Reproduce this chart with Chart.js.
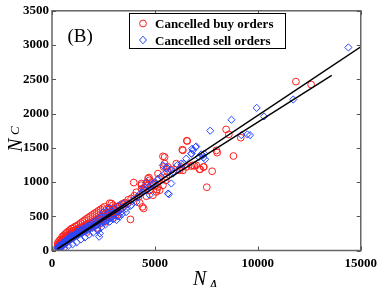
<!DOCTYPE html>
<html>
<head>
<meta charset="utf-8">
<script src="https://cdn.jsdelivr.net/npm/chart.js@4.4.1/dist/chart.umd.min.js"></script>
<style>
html,body{margin:0;padding:0;background:#fff;}
canvas{display:block;}
</style>
</head>
<body>
<canvas id="c" width="382" height="287"></canvas>
<script>
// ---- data ----
const xTicks = [0, 5000, 10000, 15000];
const yTicks = [0, 500, 1000, 1500, 2000, 2500, 3000, 3500];
const seriesLabels = ['Cancelled buy orders', 'Cancelled sell orders'];

const buyX = [260,300,320,350,380,400,420,450,470,500,520,540,560,580,600,620,650,680,700,720,750,780,800,820,850,880,900,930,960,1000,1030,1060,1100,1130,1160,1200,1240,1280,1320,1360,1400,1450,1500,1550,1600,1650,1700,1750,1800,1850,1900,1950,2000,2050,2100,2150,2200,2250,2300,2350,2400,2450,2500,2550,2600,2650,2700,2750,2800,2850,2900,2950,3000,3050,3100,3150,3200,3250,3300,3400,3487,3550,3650,3700,3811,3850,3971,4000,4100,4200,4262,4350,4455,4500,4586,4586,4650,4712,4746,4850,4950,5100,5200,5390,5390,5424,5473,5521,5555,5600,5800,6039,6199,6281,6330,6360,6360,6523,6550,6570,6765,6840,6925,7005,7168,7200,7360,7376,7520,7780,7990,8025,8460,8590,8815,9170,11850,12590,
  280,340,410,490,570,640,710,790,870,950,1040,1120,1210,1300,1390,1480,1570,1660,1760,1860,1960,2060,2160,2260,2360,2460,2560,2660,2760,2890,2960,4344,4665,5230,5070,4393,5473,5632,5148,4344,4746,4503,5148,4906,
  450,600,750,900,1050,1200,1350,1500,1650,1800,1950,2100,2250,2400,2550,2700,2850,3000,3200,3400,2200,2600,3100,1700,2950];
const buyY = [55,80,45,100,70,120,90,60,140,110,160,85,130,180,100,150,200,120,170,210,140,190,230,160,210,250,180,230,270,200,250,290,220,270,300,240,290,320,260,310,340,280,330,360,300,350,380,320,370,400,340,390,420,360,410,440,380,430,470,400,450,500,430,480,530,460,510,560,690,500,550,600,530,580,640,560,517,610,660,620,677,700,680,740,454,760,992,800,850,780,695,900,614,880,793,978,950,1065,880,1000,960,890,1050,953,1375,1220,1365,1026,1074,1150,1180,1269,1171,1220,1472,1171,1462,1220,1603,1598,1234,1244,1234,1244,1186,1186,1220,1220,924,1157,1462,1429,1768,1695,1380,1647,2466,2423,
  110,140,160,200,220,240,260,280,300,320,330,350,360,380,400,420,440,460,480,500,520,540,560,580,600,620,640,600,620,687,660,953,1050,880,856,637,1269,1220,1123,978,1026,928,928,808,
  100,130,160,200,230,260,290,310,330,360,380,420,440,470,500,530,560,600,640,680,330,420,520,270,470];

const sellX = [240,270,300,330,360,390,420,450,480,510,540,570,600,630,660,700,730,760,800,840,870,900,940,980,1020,1060,1100,1140,1180,1220,1260,1300,1350,1400,1450,1500,1550,1600,1650,1700,1750,1800,1850,1900,1950,2000,2050,2100,2150,2200,2242,2291,2325,2350,2400,2450,2500,2550,2600,2650,2700,2750,2800,2850,2900,2950,3000,3050,3133,3200,3293,3350,3400,3500,3600,3700,3800,3860,3950,4102,4150,4250,4400,4550,4700,4850,5000,5150,5300,5473,5555,5632,5681,5797,5900,6100,6200,6393,6523,6780,6814,6843,6974,7006,7134,7327,7395,7685,8717,9200,9490,9620,9943,10300,11720,14400,
  400,600,800,1000,1200,1400,1600,1800,2000,2200,2400,2600,2800,3000,3200,3400,3600,6765,7250,7361,7443,5390,5555,5797,5875,6281,4586,4906,4422,4746,
  350,500,650,800,950,1100,1250,1400,1550,1700,1850,2000,2150,2300,2450,2600,2750,2900,3050,3250,3450,2500,2800,1300,900];
const sellY = [20,45,30,60,40,75,55,90,65,105,80,120,95,135,110,150,125,165,140,180,150,195,170,210,185,225,200,240,215,255,230,270,245,285,260,300,275,315,290,330,300,345,320,360,330,375,350,390,365,405,298,201,250,420,395,440,410,455,430,475,450,490,465,510,485,530,505,550,444,575,492,600,570,640,610,680,650,662,740,710,780,820,850,880,930,960,1000,1040,1080,1123,1220,832,822,978,1150,1250,1196,1269,1341,1414,1487,1462,1510,1520,1365,1390,1414,1749,1909,1685,1695,1685,2083,1957,2204,2965,
  15,40,70,90,120,160,190,230,260,300,340,380,420,460,500,530,560,1414,1404,1356,1331,1244,1196,1171,1123,1269,1001,978,905,808,
  70,100,140,170,200,230,260,300,330,350,380,410,440,470,500,520,550,580,610,650,690,560,620,300,220];

const fitSellX = [250, 15000];
const fitSellY = [20, 2975];
const fitBuyX = [250, 13590];
const fitBuyY = [20, 2557];

const toPts = (xs, ys) => xs.map((x, i) => ({x: x, y: ys[i]}));

const RED = 'rgb(255,30,30)';
const BLUE = 'rgb(40,70,255)';
const SERIF = '"Liberation Serif", "Times New Roman", serif';

const framePlugin = {
  id: 'frame',
  afterDraw(chart) {
    const ctx = chart.ctx;
    const a = chart.chartArea;
    const xs = chart.scales.x, ys = chart.scales.y;
    ctx.save();
    // frame
    ctx.strokeStyle = '#666';
    ctx.lineWidth = 1.5;
    ctx.strokeRect(a.left, a.top, a.right - a.left, a.bottom - a.top);
    // inner ticks
    ctx.lineWidth = 1;
    ctx.strokeStyle = '#555';
    ctx.beginPath();
    xTicks.forEach(v => {
      const px = Math.round(xs.getPixelForValue(v)) + 0.5;
      ctx.moveTo(px, a.bottom); ctx.lineTo(px, a.bottom - 4);
      ctx.moveTo(px, a.top); ctx.lineTo(px, a.top + 4);
    });
    yTicks.forEach(v => {
      const py = Math.round(ys.getPixelForValue(v)) + 0.5;
      ctx.moveTo(a.left, py); ctx.lineTo(a.left + 4, py);
      ctx.moveTo(a.right, py); ctx.lineTo(a.right - 4, py);
    });
    ctx.stroke();

    // legend box
    const lx = 129, ly = 13, lw = 156, lh = 35;
    ctx.fillStyle = '#fff';
    ctx.fillRect(lx, ly, lw, lh);
    ctx.strokeStyle = '#000';
    ctx.lineWidth = 1;
    ctx.strokeRect(lx + 0.5, ly + 0.5, lw, lh);
    // markers
    ctx.strokeStyle = RED;
    ctx.beginPath(); ctx.arc(143, 23.5, 3.4, 0, Math.PI * 2); ctx.stroke();
    ctx.strokeStyle = BLUE;
    ctx.beginPath();
    ctx.moveTo(143, 36.2); ctx.lineTo(146.5, 40); ctx.lineTo(143, 43.8); ctx.lineTo(139.5, 40); ctx.closePath();
    ctx.stroke();
    ctx.fillStyle = '#000';
    ctx.font = 'bold 13px ' + SERIF;
    ctx.textBaseline = 'alphabetic';
    ctx.textAlign = 'left';
    ctx.fillText(seriesLabels[0], 155, 28.3);
    ctx.fillText(seriesLabels[1], 155, 44.5);

    // panel label
    ctx.font = '19px ' + SERIF;
    ctx.fillText('(B)', 67.5, 41.5);

    // x title N_A
    ctx.font = 'italic 20px ' + SERIF;
    ctx.fillText('N', 193, 285);
    ctx.font = 'italic 14px ' + SERIF;
    ctx.fillText('A', 209, 290);

    // y title N_C
    ctx.save();
    ctx.translate(22, 152);
    ctx.rotate(-Math.PI / 2);
    ctx.font = 'italic 20px ' + SERIF;
    ctx.fillText('N', 0, 0);
    ctx.font = 'italic 13px ' + SERIF;
    ctx.fillText('C', 17, -3);
    ctx.restore();

    ctx.restore();
  }
};

new Chart(document.getElementById('c'), {
  type: 'scatter',
  data: {
    datasets: [
      { label: 'fit sell', type: 'line', data: toPts(fitSellX, fitSellY), borderColor: '#000', borderWidth: 1.4, pointRadius: 0, fill: false, order: 0 },
      { label: 'fit buy', type: 'line', data: toPts(fitBuyX, fitBuyY), borderColor: '#000', borderWidth: 1.4, pointRadius: 0, fill: false, order: 0 },
      { label: seriesLabels[1], data: toPts(sellX, sellY), pointStyle: 'rectRot', pointRadius: 3.6, borderColor: BLUE, backgroundColor: 'rgba(0,0,0,0)', borderWidth: 1, order: 1 },
      { label: seriesLabels[0], data: toPts(buyX, buyY), pointStyle: 'circle', pointRadius: 3.4, borderColor: RED, backgroundColor: 'rgba(0,0,0,0)', borderWidth: 1, order: 2 }
    ]
  },
  options: {
    responsive: false,
    animation: false,
    events: [],
    layout: { padding: { left: 0, top: 10, right: 20, bottom: 0 } },
    plugins: { legend: { display: false }, tooltip: { enabled: false } },
    scales: {
      x: {
        type: 'linear', min: 0, max: 15000,
        afterBuildTicks: s => { s.ticks = xTicks.map(v => ({value: v})); },
        afterFit: s => { s.height = 36.5; },
        grid: { display: false, drawTicks: false },
        border: { display: false },
        ticks: { color: '#000', font: { family: SERIF, size: 13, weight: 'bold' }, padding: 5, maxRotation: 0, autoSkip: false, callback: v => String(v) }
      },
      y: {
        type: 'linear', min: 0, max: 3500,
        afterBuildTicks: s => { s.ticks = yTicks.map(v => ({value: v})); },
        afterFit: s => { s.width = 52; },
        grid: { display: false, drawTicks: false },
        border: { display: false },
        ticks: { color: '#000', font: { family: SERIF, size: 13, weight: 'bold' }, padding: 3, autoSkip: false, callback: v => String(v) }
      }
    }
  },
  plugins: [framePlugin]
});
</script>
</body>
</html>
